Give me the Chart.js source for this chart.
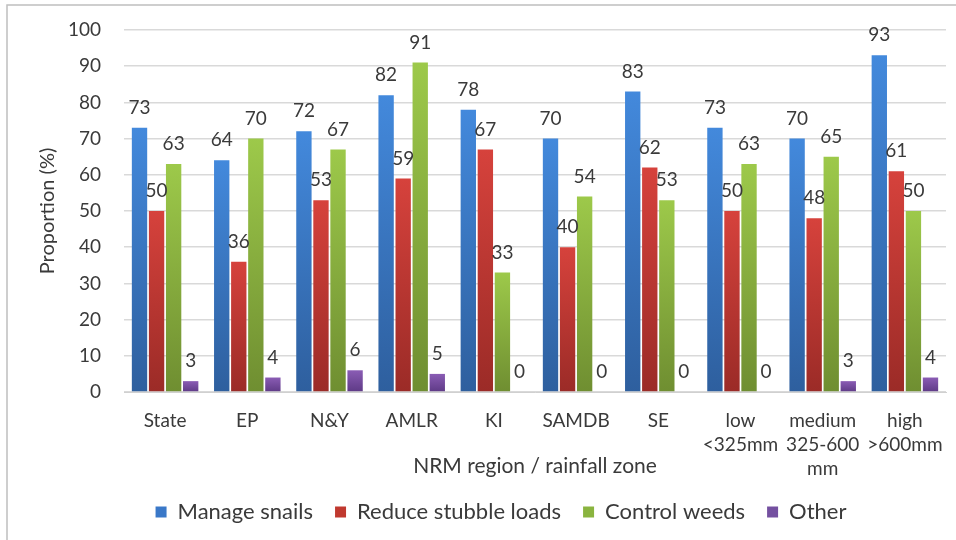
<!DOCTYPE html>
<html>
<head>
<meta charset="utf-8">
<script src="https://cdn.jsdelivr.net/npm/chart.js@4/dist/chart.umd.min.js"></script>
<style>
    html, body { margin: 0; padding: 0; background: #fff; }
    #wrap { width: 956px; height: 540px; position: relative; }
</style>
</head>
<body>
<div id="wrap"><canvas id="chart" width="956" height="540"></canvas></div>
<script>
// ========
// Data
// ========
const categories = ["State", "EP", "N&Y", "AMLR", "KI", "SAMDB", "SE",
    ["low", "<325mm"], ["medium", "325-600", "mm"], ["high", ">600mm"]];
const manageSnails = [73, 64, 72, 82, 78, 70, 83, 73, 70, 93];
const reduceStubble = [50, 36, 53, 59, 67, 40, 62, 50, 48, 61];
const controlWeeds = [63, 70, 67, 91, 33, 54, 53, 63, 65, 50];
const other = [3, 4, 6, 5, 0, 0, 0, 0, 3, 4];
const yTicks = [0, 10, 20, 30, 40, 50, 60, 70, 80, 90, 100];

const FONT = "Lato, 'Open Sans', sans-serif";
const TEXT = "#3a3a3a";

// light top -> dark bottom, per bar
function barGradient(top, bottom) {
    return ctx => {
        const chart = ctx.chart;
        if (ctx.type !== "data" || !chart.chartArea) return bottom;
        const y = chart.scales.y;
        const y0 = y.getPixelForValue(ctx.raw);
        const y1 = y.getPixelForValue(0);
        if (!isFinite(y0) || y1 - y0 < 1) return bottom;
        const g = chart.ctx.createLinearGradient(0, y0, 0, y1);
        g.addColorStop(0, top);
        g.addColorStop(1, bottom);
        return g;
    };
}

const series = [
    { label: "Manage snails", data: manageSnails, top: "#4389dc", bottom: "#2e5f9e", solid: "#3a78c8" },
    { label: "Reduce stubble loads", data: reduceStubble, top: "#d6423c", bottom: "#9b2b27", solid: "#c0392f" },
    { label: "Control weeds", data: controlWeeds, top: "#9dc94a", bottom: "#6f8e31", solid: "#8ab43f" },
    { label: "Other", data: other, top: "#8a5cb4", bottom: "#5e3a86", solid: "#7450a0" }
];

// Value labels above each bar
const valueLabels = {
    id: "valueLabels",
    afterDatasetsDraw(chart) {
        const ctx = chart.ctx;
        ctx.save();
        ctx.font = "19px " + FONT;
        ctx.fillStyle = TEXT;
        ctx.textAlign = "center";
        ctx.textBaseline = "middle";
        chart.data.datasets.forEach((ds, i) => {
            chart.getDatasetMeta(i).data.forEach((bar, j) => {
                ctx.fillText(String(ds.data[j]), bar.x, bar.y - 20);
            });
        });
        ctx.restore();
    }
};

// Light frame around the picture
const frame = {
    id: "frame",
    beforeDraw(chart) {
        const ctx = chart.ctx;
        ctx.save();
        ctx.strokeStyle = "#bfbfbf";
        ctx.lineWidth = 1.5;
        ctx.strokeRect(7, 5, 960, 560);
        ctx.restore();
    }
};

// Legend sits a little right of the canvas centre in the original
const legendShift = {
    id: "legendShift",
    afterLayout(chart) {
        if (chart.legend) {
            chart.legend.left += 28;
            chart.legend.right += 28;
        }
    }
};

new Chart(document.getElementById("chart"), {
    type: "bar",
    data: {
        labels: categories,
        datasets: series.map(s => ({
            label: s.label,
            data: s.data,
            backgroundColor: barGradient(s.top, s.bottom),
            borderWidth: 0,
            categoryPercentage: 0.83,
            barPercentage: 0.9
        }))
    },
    options: {
        responsive: false,
        animation: false,
        layout: { padding: { top: 30, right: 10, bottom: 7, left: 0 } },
        plugins: {
            tooltip: { enabled: false },
            legend: {
                position: "bottom",
                labels: {
                    font: { family: FONT, size: 22 },
                    color: TEXT,
                    boxWidth: 11,
                    boxHeight: 11,
                    padding: 22,
                    generateLabels: chart => series.map((s, i) => ({
                        text: s.label,
                        fillStyle: s.solid,
                        strokeStyle: s.solid,
                        lineWidth: 0,
                        fontColor: TEXT,
                        datasetIndex: i
                    }))
                }
            }
        },
        scales: {
            x: {
                grid: { display: false },
                border: { color: "#d0d0d0", width: 1 },
                ticks: {
                    color: TEXT,
                    font: { family: FONT, size: 19, lineHeight: 1.25 },
                    padding: 9,
                    maxRotation: 0,
                    autoSkip: false
                },
                title: {
                    display: true,
                    text: "NRM region / rainfall zone",
                    color: TEXT,
                    font: { family: FONT, size: 21 },
                    padding: 0
                },
                afterFit: s => { s.height = 87; }
            },
            y: {
                min: 0,
                max: 100,
                afterBuildTicks: s => { s.ticks = yTicks.map(v => ({ value: v })); },
                grid: { color: "#d9d9d9", lineWidth: 1.5, drawTicks: false },
                border: { display: false },
                ticks: {
                    color: TEXT,
                    font: { family: FONT, size: 19 },
                    padding: 23
                },
                title: {
                    display: true,
                    text: "Proportion (%)",
                    color: TEXT,
                    font: { family: FONT, size: 20 },
                    padding: { top: 36, bottom: 0 }
                },
                afterFit: s => {
                    s.width = 124;
                    // tick padding should not push the plot top down
                    s.paddingTop = 12;
                    s.paddingBottom = 12;
                }
            }
        }
    },
    plugins: [frame, valueLabels, legendShift]
});
</script>
</body>
</html>
